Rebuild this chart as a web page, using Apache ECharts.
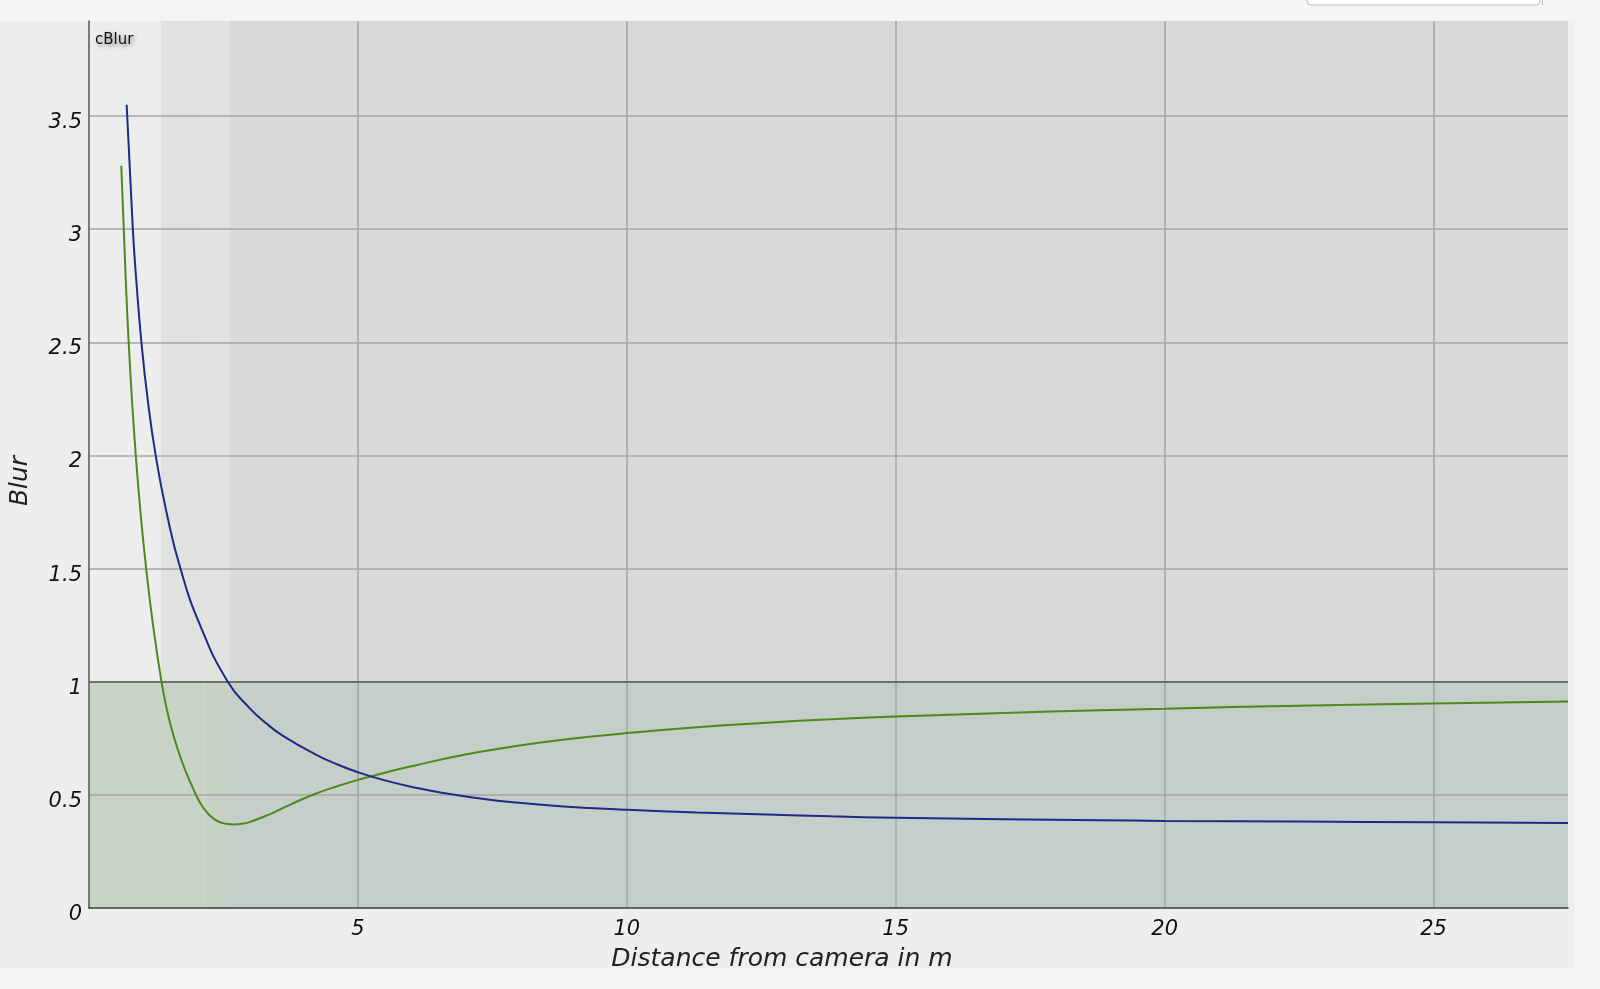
<!DOCTYPE html>
<html><head><meta charset="utf-8">
<script src="https://cdn.jsdelivr.net/npm/echarts@6/dist/echarts.min.js"></script>
<style>html,body{margin:0;padding:0;background:#f5f5f5}#c{width:1600px;height:989px}</style>
</head><body><div id="c"></div>
<script>
// axis ranges and tick step
const xRange = [0, 27.5];
const yRange = [0, 3.92];
const xStep = 5;
const yStep = 0.5;
const threshold = 1;
// shaded focus bands (distance in m)
const bandEdges = [1.34, 2.15, 2.62];
// blue curve (distance m, blur)
const blueCurve = [
  [0.70,3.55],[0.815,3.0],[0.887,2.75],[0.975,2.5],[1.09,2.25],[1.24,2.0],[1.44,1.75],
  [1.70,1.5],[2.065,1.25],[2.58,1.0],[3.0,0.88],[3.3,0.815],[3.6,0.762],[4.2,0.68],
  [4.6,0.636],[5.0,0.60],[5.5,0.564],[6.1,0.53],[6.7,0.504],[7.34,0.482],[8.0,0.465],
  [8.58,0.453],[9.3,0.442],[10,0.434],[11.3,0.422],[12.6,0.413],[13.8,0.405],[15,0.399],
  [17,0.392],[18.8,0.388],[20,0.385],[22.5,0.382],[25,0.379],[27.5,0.376]
];
// green curve (distance m, blur)
const greenCurve = [
  [0.60,3.28],[0.647,3.0],[0.688,2.75],[0.738,2.5],[0.798,2.25],[0.87,2.0],[0.957,1.75],
  [1.063,1.5],[1.191,1.25],[1.348,1.0],[1.45,0.875],[1.55,0.78],[1.66,0.695],[1.8,0.603],
  [1.98,0.505],[2.1,0.452],[2.25,0.408],[2.4,0.383],[2.55,0.372],[2.7,0.369],[2.85,0.372],
  [3.0,0.381],[3.3,0.408],[3.6,0.441],[3.9,0.474],[4.2,0.504],[4.6,0.537],[5.0,0.566],
  [5.5,0.598],[6.1,0.632],[6.7,0.664],[7.34,0.693],[8.0,0.718],[8.58,0.737],[9.3,0.757],
  [10,0.773],[11.3,0.799],[12.6,0.819],[13.8,0.834],[15,0.846],[17,0.862],[18.8,0.874],
  [20,0.881],[22.5,0.894],[25,0.904],[27.5,0.913]
];
const upperColors = ['#ededed','#dfe2de','#e1e3e0','#d8d9db'];
const lowerColors = ['#c9d4c6','#c8d3c5','#c7d1c6','#c5cec8'];

const edges = [xRange[0]].concat(bandEdges, [xRange[1]]);
const areas = [];
for (let i = 0; i < edges.length - 1; i++) {
  areas.push([{coord:[edges[i], threshold], itemStyle:{color:upperColors[i], opacity:1}}, {coord:[edges[i+1], yRange[1]]}]);
  areas.push([{coord:[edges[i], yRange[0]], itemStyle:{color:lowerColors[i], opacity:1}}, {coord:[edges[i+1], threshold]}]);
}

const font = 'DejaVu Sans';
const chart = echarts.init(document.getElementById('c'), null, {renderer:'canvas'});
chart.setOption({
  backgroundColor: '#f5f5f5',
  animation: false,
  grid: {left: 89, right: 32, top: 21, bottom: 81, show: false},
  xAxis: {
    type: 'value', min: xRange[0], max: xRange[1], interval: xStep, z: 2,
    axisLine: {show: true, onZero: false, lineStyle: {color: '#3a3a3a', width: 1.5}},
    axisTick: {show: false},
    axisLabel: {fontFamily: font, fontStyle: 'italic', fontSize: 21, color: '#111', margin: 11,
      showMinLabel: false, showMaxLabel: false},
    splitLine: {show: true, showMinLine: false, showMaxLine: false, lineStyle: {color: '#a0a3a3', width: 1.5}}
  },
  yAxis: {
    type: 'value', min: yRange[0], max: yRange[1], interval: yStep, z: 2,
    axisLine: {show: true, lineStyle: {color: '#555', width: 1.5}},
    axisTick: {show: false},
    axisLabel: {fontFamily: font, fontStyle: 'italic', fontSize: 21, color: '#111', margin: 7,
      showMaxLabel: false, verticalAlign: 'top', lineHeight: 13},
    splitLine: {show: true, showMinLine: false, showMaxLine: false, lineStyle: {color: '#a6a6a6', width: 1.5}}
  },
  graphic: {elements: [
    {type: 'rect', z: -10, shape: {x: 0, y: 21, width: 1575, height: 947}, style: {fill: '#eeeeee'}},
    {type: 'rect', z: -9, shape: {x: 1307, y: -10, width: 233, height: 15, r: 4}, style: {fill: '#ffffff', stroke: '#bdbdbd', lineWidth: 1}},
    {type: 'line', z: -9, shape: {x1: 1542.5, y1: 0, x2: 1542.5, y2: 5}, style: {stroke: '#bdbdbd', lineWidth: 1}},
    {type: 'text', z: 10, x: 95, y: 40, style: {text: 'cBlur', fontFamily: font, fontSize: 15, fill: '#111',
      verticalAlign: 'middle', textShadowColor: 'rgba(0,0,0,0.45)', textShadowBlur: 4, textShadowOffsetX: 2, textShadowOffsetY: 2}},
    {type: 'text', z: 10, x: 782, y: 959, style: {text: 'Distance from camera in m', fontFamily: font, fontStyle: 'italic',
      fontSize: 25, fill: '#222', align: 'center', verticalAlign: 'middle'}},
    {type: 'text', z: 10, x: 20, y: 481, rotation: Math.PI / 2, style: {text: 'Blur', fontFamily: font, fontStyle: 'italic',
      fontSize: 25, fill: '#222', align: 'center', verticalAlign: 'middle'}}
  ]},
  series: [
    {type: 'line', data: [], z: 0, silent: true, markArea: {silent: true, z: 0, data: areas}},
    {type: 'line', data: [], z: 2.5, silent: true,
      markLine: {silent: true, z: 2.5, symbol: 'none', label: {show: false},
        lineStyle: {color: '#6f6f6f', width: 2, type: 'solid'}, data: [{yAxis: threshold}]}},
    {type: 'line', data: greenCurve, z: 3, showSymbol: false, smooth: 0.5,
      lineStyle: {color: '#4c8a20', width: 2}},
    {type: 'line', data: blueCurve, z: 3, showSymbol: false, smooth: 0.5,
      lineStyle: {color: '#1d2a86', width: 2}}
  ]
});
</script></body></html>
